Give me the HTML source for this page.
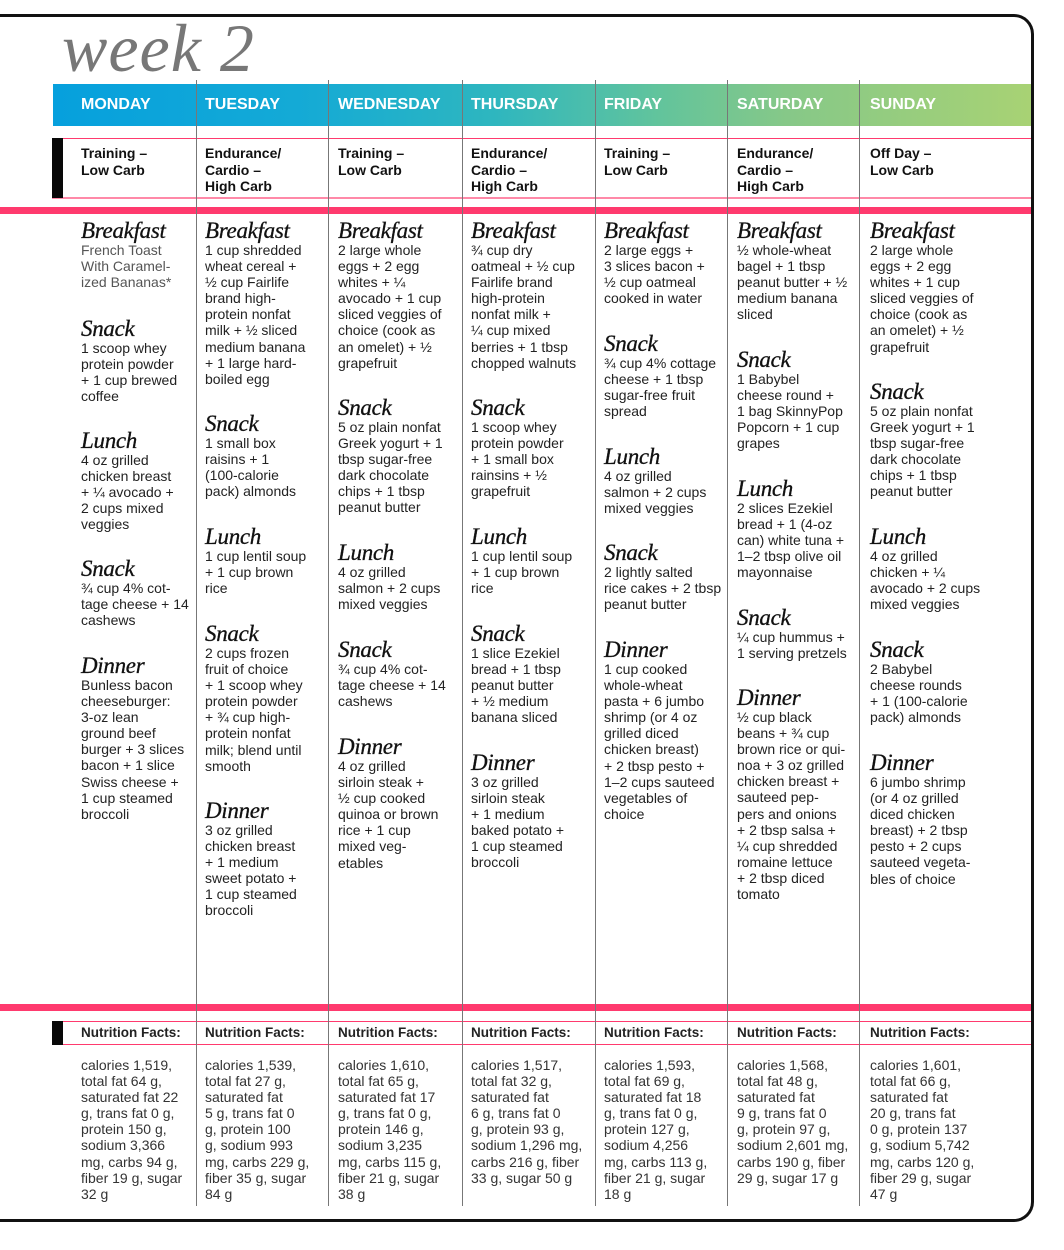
<!DOCTYPE html>
<html><head><meta charset="utf-8"><style>
*{margin:0;padding:0;box-sizing:border-box}
body{width:1064px;height:1250px;background:#fff;position:relative;overflow:hidden;font-family:"Liberation Sans",sans-serif;color:#222}
.frame{position:absolute;left:-10px;top:14px;width:1044px;height:1208px;border:3px solid #111;border-radius:0 20px 20px 0;border-left:none}
.title{position:absolute;left:62px;top:8px;font-family:"Liberation Serif",serif;font-style:italic;font-size:68px;color:#777;font-weight:normal;letter-spacing:1px;line-height:80px}
.hdr{position:absolute;left:53px;top:84px;width:978px;height:42px;background:linear-gradient(90deg,#06a0dd 0%,#14aad6 25%,#2eb6bf 45%,#62c49c 62%,#86c888 75%,#a8d274 100%)}
.day{position:absolute;top:96px;color:#fff;font-weight:bold;font-size:16px}
.pk{position:absolute;background:#ff3a6e}
.blk{position:absolute;background:#080808;left:52px;width:11px}
.vl{position:absolute;width:1px;background:#777;top:80px;height:1126px}
.typ{position:absolute;top:145px;font-weight:bold;font-size:14px;line-height:16.5px;color:#111}
.sec{position:absolute;font-size:14px;line-height:16.1px;white-space:nowrap;color:#222}
.sec h{display:block;font-family:"Liberation Serif",serif;font-style:italic;font-size:23px;line-height:22px;color:#111;-webkit-text-stroke:0.3px #111;letter-spacing:-0.3px}
.nf{position:absolute;top:1025px;font-weight:bold;font-size:13.5px;color:#222}
.nt{position:absolute;top:1057px;font-size:14px;line-height:16.1px;white-space:nowrap;color:#333}
</style></head><body>
<div class="frame"></div>
<div class="title">week 2</div>
<div class="hdr"></div>
<div class="day" style="left:81px">MONDAY</div>
<div class="day" style="left:205px">TUESDAY</div>
<div class="day" style="left:338px">WEDNESDAY</div>
<div class="day" style="left:471px">THURSDAY</div>
<div class="day" style="left:604px">FRIDAY</div>
<div class="day" style="left:737px">SATURDAY</div>
<div class="day" style="left:870px">SUNDAY</div>

<div class="pk" style="left:52px;top:138px;width:979px;height:1px"></div>
<div class="pk" style="left:52px;top:197px;width:979px;height:2px;opacity:.6"></div>
<div class="blk" style="top:138px;height:60px"></div>
<div class="pk" style="left:0;top:207px;width:1031px;height:7px"></div>
<div class="pk" style="left:0;top:1004px;width:1031px;height:7px"></div>
<div class="pk" style="left:52px;top:1021px;width:979px;height:1px"></div>
<div class="pk" style="left:52px;top:1044px;width:979px;height:1px"></div>
<div class="blk" style="top:1021px;height:24px"></div>

<div class="vl" style="left:196px"></div>
<div class="vl" style="left:328px"></div>
<div class="vl" style="left:462px"></div>
<div class="vl" style="left:595px"></div>
<div class="vl" style="left:727px"></div>
<div class="vl" style="left:859px"></div>

<div class="typ" style="left:81px">Training –<br>Low Carb</div>
<div class="typ" style="left:205px">Endurance/<br>Cardio –<br>High Carb</div>
<div class="typ" style="left:338px">Training –<br>Low Carb</div>
<div class="typ" style="left:471px">Endurance/<br>Cardio –<br>High Carb</div>
<div class="typ" style="left:604px">Training –<br>Low Carb</div>
<div class="typ" style="left:737px">Endurance/<br>Cardio –<br>High Carb</div>
<div class="typ" style="left:870px">Off Day –<br>Low Carb</div>

<!-- Monday -->
<div class="sec" style="left:81px;top:220px"><h>Breakfast</h><span style="color:#555">French Toast<br>With Caramel-<br>ized Bananas*</span></div>
<div class="sec" style="left:81px;top:318px"><h>Snack</h>1 scoop whey<br>protein powder<br>+ 1 cup brewed<br>coffee</div>
<div class="sec" style="left:81px;top:430px"><h>Lunch</h>4 oz grilled<br>chicken breast<br>+ ¼ avocado +<br>2 cups mixed<br>veggies</div>
<div class="sec" style="left:81px;top:558px"><h>Snack</h>¾ cup 4% cot-<br>tage cheese + 14<br>cashews</div>
<div class="sec" style="left:81px;top:655px"><h>Dinner</h>Bunless bacon<br>cheeseburger:<br>3-oz lean<br>ground beef<br>burger + 3 slices<br>bacon + 1 slice<br>Swiss cheese +<br>1 cup steamed<br>broccoli</div>

<!-- Tuesday -->
<div class="sec" style="left:205px;top:220px"><h>Breakfast</h>1 cup shredded<br>wheat cereal +<br>½ cup Fairlife<br>brand high-<br>protein nonfat<br>milk + ½ sliced<br>medium banana<br>+ 1 large hard-<br>boiled egg</div>
<div class="sec" style="left:205px;top:413px"><h>Snack</h>1 small box<br>raisins + 1<br>(100-calorie<br>pack) almonds</div>
<div class="sec" style="left:205px;top:526px"><h>Lunch</h>1 cup lentil soup<br>+ 1 cup brown<br>rice</div>
<div class="sec" style="left:205px;top:623px"><h>Snack</h>2 cups frozen<br>fruit of choice<br>+ 1 scoop whey<br>protein powder<br>+ ¾ cup high-<br>protein nonfat<br>milk; blend until<br>smooth</div>
<div class="sec" style="left:205px;top:800px"><h>Dinner</h>3 oz grilled<br>chicken breast<br>+ 1 medium<br>sweet potato +<br>1 cup steamed<br>broccoli</div>

<!-- Wednesday -->
<div class="sec" style="left:338px;top:220px"><h>Breakfast</h>2 large whole<br>eggs + 2 egg<br>whites + ¼<br>avocado + 1 cup<br>sliced veggies of<br>choice (cook as<br>an omelet) + ½<br>grapefruit</div>
<div class="sec" style="left:338px;top:397px"><h>Snack</h>5 oz plain nonfat<br>Greek yogurt + 1<br>tbsp sugar-free<br>dark chocolate<br>chips + 1 tbsp<br>peanut butter</div>
<div class="sec" style="left:338px;top:542px"><h>Lunch</h>4 oz grilled<br>salmon + 2 cups<br>mixed veggies</div>
<div class="sec" style="left:338px;top:639px"><h>Snack</h>¾ cup 4% cot-<br>tage cheese + 14<br>cashews</div>
<div class="sec" style="left:338px;top:736px"><h>Dinner</h>4 oz grilled<br>sirloin steak +<br>½ cup cooked<br>quinoa or brown<br>rice + 1 cup<br>mixed veg-<br>etables</div>

<!-- Thursday -->
<div class="sec" style="left:471px;top:220px"><h>Breakfast</h>¾ cup dry<br>oatmeal + ½ cup<br>Fairlife brand<br>high-protein<br>nonfat milk +<br>¼ cup mixed<br>berries + 1 tbsp<br>chopped walnuts</div>
<div class="sec" style="left:471px;top:397px"><h>Snack</h>1 scoop whey<br>protein powder<br>+ 1 small box<br>rainsins + ½<br>grapefruit</div>
<div class="sec" style="left:471px;top:526px"><h>Lunch</h>1 cup lentil soup<br>+ 1 cup brown<br>rice</div>
<div class="sec" style="left:471px;top:623px"><h>Snack</h>1 slice Ezekiel<br>bread + 1 tbsp<br>peanut butter<br>+ ½ medium<br>banana sliced</div>
<div class="sec" style="left:471px;top:752px"><h>Dinner</h>3 oz grilled<br>sirloin steak<br>+ 1 medium<br>baked potato +<br>1 cup steamed<br>broccoli</div>

<!-- Friday -->
<div class="sec" style="left:604px;top:220px"><h>Breakfast</h>2 large eggs +<br>3 slices bacon +<br>½ cup oatmeal<br>cooked in water</div>
<div class="sec" style="left:604px;top:333px"><h>Snack</h>¾ cup 4% cottage<br>cheese + 1 tbsp<br>sugar-free fruit<br>spread</div>
<div class="sec" style="left:604px;top:446px"><h>Lunch</h>4 oz grilled<br>salmon + 2 cups<br>mixed veggies</div>
<div class="sec" style="left:604px;top:542px"><h>Snack</h>2 lightly salted<br>rice cakes + 2 tbsp<br>peanut butter</div>
<div class="sec" style="left:604px;top:639px"><h>Dinner</h>1 cup cooked<br>whole-wheat<br>pasta + 6 jumbo<br>shrimp (or 4 oz<br>grilled diced<br>chicken breast)<br>+ 2 tbsp pesto +<br>1–2 cups sauteed<br>vegetables of<br>choice</div>

<!-- Saturday -->
<div class="sec" style="left:737px;top:220px"><h>Breakfast</h>½ whole-wheat<br>bagel + 1 tbsp<br>peanut butter + ½<br>medium banana<br>sliced</div>
<div class="sec" style="left:737px;top:349px"><h>Snack</h>1 Babybel<br>cheese round +<br>1 bag SkinnyPop<br>Popcorn + 1 cup<br>grapes</div>
<div class="sec" style="left:737px;top:478px"><h>Lunch</h>2 slices Ezekiel<br>bread + 1 (4-oz<br>can) white tuna +<br>1–2 tbsp olive oil<br>mayonnaise</div>
<div class="sec" style="left:737px;top:607px"><h>Snack</h>¼ cup hummus +<br>1 serving pretzels</div>
<div class="sec" style="left:737px;top:687px"><h>Dinner</h>½ cup black<br>beans + ¾ cup<br>brown rice or qui-<br>noa + 3 oz grilled<br>chicken breast +<br>sauteed pep-<br>pers and onions<br>+ 2 tbsp salsa +<br>¼ cup shredded<br>romaine lettuce<br>+ 2 tbsp diced<br>tomato</div>

<!-- Sunday -->
<div class="sec" style="left:870px;top:220px"><h>Breakfast</h>2 large whole<br>eggs + 2 egg<br>whites + 1 cup<br>sliced veggies of<br>choice (cook as<br>an omelet) + ½<br>grapefruit</div>
<div class="sec" style="left:870px;top:381px"><h>Snack</h>5 oz plain nonfat<br>Greek yogurt + 1<br>tbsp sugar-free<br>dark chocolate<br>chips + 1 tbsp<br>peanut butter</div>
<div class="sec" style="left:870px;top:526px"><h>Lunch</h>4 oz grilled<br>chicken + ¼<br>avocado + 2 cups<br>mixed veggies</div>
<div class="sec" style="left:870px;top:639px"><h>Snack</h>2 Babybel<br>cheese rounds<br>+ 1 (100-calorie<br>pack) almonds</div>
<div class="sec" style="left:870px;top:752px"><h>Dinner</h>6 jumbo shrimp<br>(or 4 oz grilled<br>diced chicken<br>breast) + 2 tbsp<br>pesto + 2 cups<br>sauteed vegeta-<br>bles of choice</div>

<div class="nf" style="left:81px">Nutrition Facts:</div>
<div class="nf" style="left:205px">Nutrition Facts:</div>
<div class="nf" style="left:338px">Nutrition Facts:</div>
<div class="nf" style="left:471px">Nutrition Facts:</div>
<div class="nf" style="left:604px">Nutrition Facts:</div>
<div class="nf" style="left:737px">Nutrition Facts:</div>
<div class="nf" style="left:870px">Nutrition Facts:</div>

<div class="nt" style="left:81px">calories 1,519,<br>total fat 64 g,<br>saturated fat 22<br>g, trans fat 0 g,<br>protein 150 g,<br>sodium 3,366<br>mg, carbs 94 g,<br>fiber 19 g, sugar<br>32 g</div>
<div class="nt" style="left:205px">calories 1,539,<br>total fat 27 g,<br>saturated fat<br>5 g, trans fat 0<br>g, protein 100<br>g, sodium 993<br>mg, carbs 229 g,<br>fiber 35 g, sugar<br>84 g</div>
<div class="nt" style="left:338px">calories 1,610,<br>total fat 65 g,<br>saturated fat 17<br>g, trans fat 0 g,<br>protein 146 g,<br>sodium 3,235<br>mg, carbs 115 g,<br>fiber 21 g, sugar<br>38 g</div>
<div class="nt" style="left:471px">calories 1,517,<br>total fat 32 g,<br>saturated fat<br>6 g, trans fat 0<br>g, protein 93 g,<br>sodium 1,296 mg,<br>carbs 216 g, fiber<br>33 g, sugar 50 g</div>
<div class="nt" style="left:604px">calories 1,593,<br>total fat 69 g,<br>saturated fat 18<br>g, trans fat 0 g,<br>protein 127 g,<br>sodium 4,256<br>mg, carbs 113 g,<br>fiber 21 g, sugar<br>18 g</div>
<div class="nt" style="left:737px">calories 1,568,<br>total fat 48 g,<br>saturated fat<br>9 g, trans fat 0<br>g, protein 97 g,<br>sodium 2,601 mg,<br>carbs 190 g, fiber<br>29 g, sugar 17 g</div>
<div class="nt" style="left:870px">calories 1,601,<br>total fat 66 g,<br>saturated fat<br>20 g, trans fat<br>0 g, protein 137<br>g, sodium 5,742<br>mg, carbs 120 g,<br>fiber 29 g, sugar<br>47 g</div>
</body></html>
